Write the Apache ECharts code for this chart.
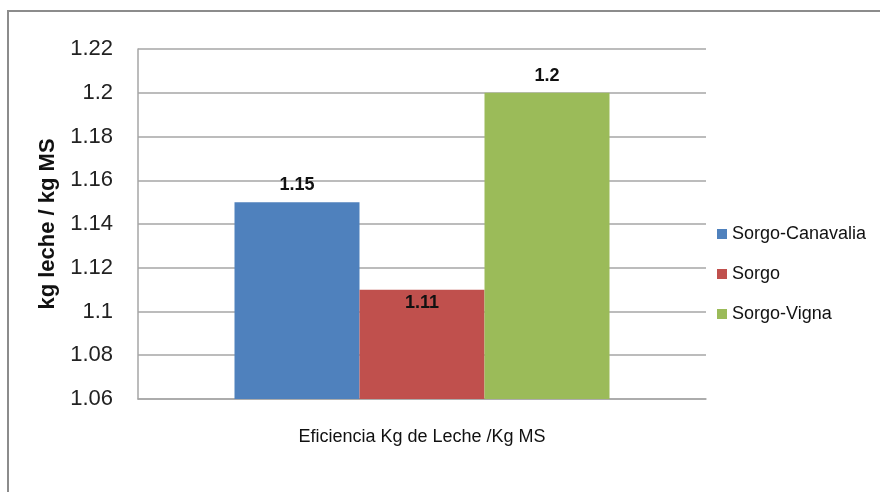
<!DOCTYPE html>
<html>
<head>
<meta charset="utf-8">
<script src="https://cdn.jsdelivr.net/npm/echarts@6/dist/echarts.min.js"></script>
<style>
  html, body { margin: 0; padding: 0; background: #fff; }
  #chart { width: 880px; height: 492px; }
</style>
</head>
<body>
<div id="chart"></div>
<script>
// Milk efficiency per kg of dry matter, by forage mix
const categories = ['Eficiencia Kg de Leche /Kg MS'];
const seriesNames = ['Sorgo-Canavalia', 'Sorgo', 'Sorgo-Vigna'];
const seriesValues = [[1.15], [1.11], [1.2]];
const seriesColors = ['#4F81BD', '#C0504D', '#9BBB59'];
const labelPositions = ['top', 'insideTop', 'top'];
const yTicks = { min: 1.06, max: 1.22, step: 0.02 };

const font = "'Liberation Sans', Arial, sans-serif";

const chart = echarts.init(document.getElementById('chart'), null, { renderer: 'canvas' });

chart.setOption({
  backgroundColor: '#ffffff',
  animation: false,
  graphic: [{
    type: 'rect',
    shape: { x: 8, y: 11, width: 900, height: 520 },
    style: { fill: 'none', stroke: '#8c8c8c', lineWidth: 2 },
    silent: true
  }],
  grid: { left: 138, top: 49, width: 568, height: 350, containLabel: false },
  legend: {
    orient: 'vertical',
    left: 712,
    top: 220,
    itemWidth: 10,
    itemHeight: 10,
    itemGap: 22,
    icon: 'rect',
    textStyle: { fontFamily: font, fontSize: 18, color: '#111' },
    data: seriesNames
  },
  xAxis: {
    type: 'category',
    data: categories,
    axisLine: { show: true, lineStyle: { color: '#a6a6a6', width: 1.5 } },
    axisTick: { show: false },
    axisLabel: { fontFamily: font, fontSize: 18, color: '#111', margin: 29 }
  },
  yAxis: {
    type: 'value',
    min: yTicks.min,
    max: yTicks.max,
    interval: yTicks.step,
    name: 'kg leche / kg MS',
    nameLocation: 'middle',
    nameGap: 76,
    nameTextStyle: { fontFamily: font, fontSize: 22, fontWeight: 'bold', color: '#111' },
    axisLine: { show: true, lineStyle: { color: '#a6a6a6', width: 1.5 } },
    axisTick: { show: false },
    splitLine: { lineStyle: { color: '#a6a6a6', width: 1.5 } },
    axisLabel: {
      fontFamily: font, fontSize: 22, color: '#222', margin: 25,
      formatter: v => String(parseFloat(v.toFixed(2)))
    }
  },
  series: seriesNames.map((name, i) => ({
    name: name,
    type: 'bar',
    data: seriesValues[i],
    barWidth: 125,
    barGap: '0%',
    itemStyle: { color: seriesColors[i] },
    label: {
      show: true,
      position: labelPositions[i],
      distance: labelPositions[i] === 'top' ? 8 : 4,
      fontFamily: font,
      fontSize: 18,
      fontWeight: 'bold',
      color: '#111'
    }
  }))
});
</script>
</body>
</html>
